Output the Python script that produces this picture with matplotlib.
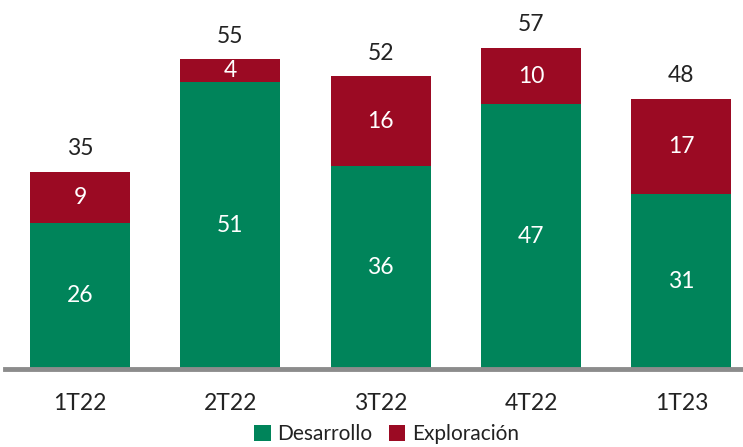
import numpy as np
import matplotlib.pyplot as plt

plt.rcParams['font.family'] = ['Lato', 'DejaVu Sans']

trimestres = ['1T22', '2T22', '3T22', '4T22', '1T23']
desarrollo = [26, 51, 36, 47, 31]
exploracion = [9, 4, 16, 10, 17]
totales = [35, 55, 52, 57, 48]

verde = '#00845a'
rojo = '#9b0a23'

fig = plt.figure(figsize=(7.43, 4.47), dpi=100)
ax = fig.add_axes([5 / 743, 1 - 369 / 447, 738 / 743, 369 / 447])

x = np.arange(len(trimestres))
b1 = ax.bar(x, desarrollo, width=0.665, color=verde, label='Desarrollo', zorder=2)
b2 = ax.bar(x, exploracion, width=0.665, bottom=desarrollo, color=rojo,
            label='Exploración', zorder=2)

for i in range(len(x)):
    ax.text(x[i], desarrollo[i] / 2, str(desarrollo[i]), ha='center', va='center',
            color='white', fontsize=16.5)
    ax.text(x[i], desarrollo[i] + exploracion[i] / 2, str(exploracion[i]),
            ha='center', va='center', color='white', fontsize=16.5)
    ax.text(x[i], totales[i] + 2.2, str(totales[i]), ha='center', va='bottom',
            color='#222222', fontsize=16.5)

ax.set_xlim(-0.5, 4.41)
ax.set_ylim(0, 65.5)
ax.set_yticks([])
ax.set_xticks(x)
ax.set_xticklabels(trimestres, fontsize=16.5, color='#222222')
ax.tick_params(axis='x', length=0, pad=17)
for s in ['top', 'right', 'left']:
    ax.spines[s].set_visible(False)
ax.spines['bottom'].set_color('#8c8c8c')
ax.spines['bottom'].set_linewidth(3.5)

leg = fig.legend(handles=[b1, b2], loc='center', bbox_to_anchor=(0.52, 1 - 434 / 447),
                 ncol=2, frameon=False, fontsize=15, handlelength=0.8, handleheight=0.8,
                 handletextpad=0.3, columnspacing=0.8)
for t in leg.get_texts():
    t.set_color('#222222')

fig.savefig('out.png', dpi=100)
